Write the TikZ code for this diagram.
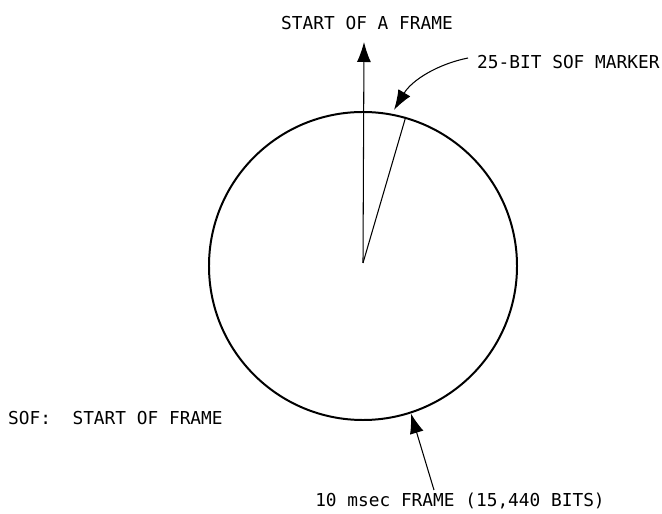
\documentclass[tikz,border=0pt]{standalone}
\usepackage{fontspec}
\setmonofont{DejaVu Sans Mono}
\usepackage{tikz}
\usetikzlibrary{arrows.meta, positioning, calc}

\begin{document}
\begin{tikzpicture}[x=0.03cm, y=-0.03cm, font=\ttfamily\fontsize{15.2}{17}\selectfont]
    \tikzstyle{label} = [inner sep=0pt, anchor=west]
    \tikzstyle{arrow} = [line width=0.9pt, -{Latex[length=6mm, width=4.2mm]}]

    \useasboundingbox (0,0) rectangle (662,514);

    % frame circle and its centre
    \node (frame) [circle, draw, line width=1.7pt, minimum size=9.24cm, inner sep=0pt] at (363,266) {};
    \coordinate (centre) at (363,263);
    \coordinate (top) at (364,42);
    \coordinate (tail) at (434,490);

    % labels
    \node (start) [inner sep=0pt] at (367,23) {START OF A FRAME};
    \node (marker) [label] at (477,62) {25-BIT SOF MARKER};
    \node (sof) [label] at (8,418) {SOF:\ \ START OF FRAME};
    \node (period) [inner sep=0pt] at (460,501) {10 msec FRAME (15,440 BITS)};

    \draw [arrow] (centre) -- (top);
    \draw [line width=0.9pt] (centre) -- (frame.74);
    \draw [arrow] ($(marker.west)+(-9,-4)$) .. controls (438,64) and (412,80) .. (394,110);
    \draw [arrow] (tail) -- (frame.288);
\end{tikzpicture}
\end{document}
